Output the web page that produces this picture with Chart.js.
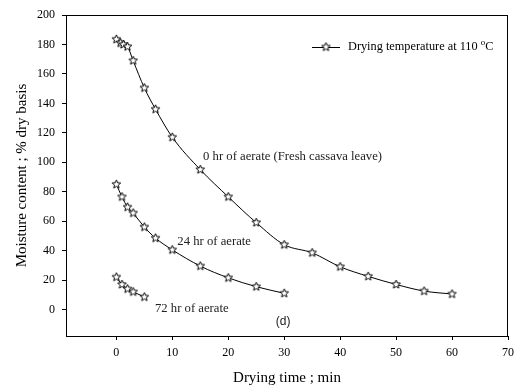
<!DOCTYPE html>
<html>
<head>
<meta charset="utf-8">
<script src="https://cdn.jsdelivr.net/npm/chart.js@4"></script>
<style>
  html, body { margin: 0; padding: 0; background: #fff; }
  #wrap { width: 520px; height: 390px; }
</style>
</head>
<body>
<div id="wrap"><canvas id="grafico" width="520" height="390"></canvas></div>
<script>
// drying time (min) and moisture content (% dry basis)
let time0 = [0, 0.75, 1.25, 2, 3, 5, 7, 10, 15, 20, 25, 30, 35, 40, 45, 50, 55, 60];
let mc0   = [183.5, 181, 180, 178.5, 169, 150.5, 136, 117, 95, 76.5, 59, 44, 38.5, 29, 22.5, 17, 12.5, 10.5];
let time24 = [0, 1, 2, 3, 5, 7, 10, 15, 20, 25, 30];
let mc24   = [85, 76.5, 69.5, 65.5, 56, 48.5, 40.5, 29.5, 21.5, 15.5, 11];
let time72 = [0, 1, 2, 3, 5];
let mc72   = [22, 17, 14, 12, 8.5];

let xTicks = [0, 10, 20, 30, 40, 50, 60, 70];
let yTicks = [0, 20, 40, 60, 80, 100, 120, 140, 160, 180, 200];

const serif = '"Liberation Serif", "Times New Roman", serif';

// open five-point star marker
function makeStar(size){
  let c = document.createElement('canvas');
  c.width = size; c.height = size;
  let g = c.getContext('2d');
  let cx = size/2, cy = size/2, R = size/2 - 1, r = R*0.45;
  g.beginPath();
  for(let i=0;i<10;i++){
    let a = -Math.PI/2 + i*Math.PI/5;
    let rr = i%2 ? r : R;
    let px = cx + rr*Math.cos(a), py = cy + rr*Math.sin(a);
    i ? g.lineTo(px,py) : g.moveTo(px,py);
  }
  g.closePath();
  g.fillStyle = '#fff';
  g.fill();
  g.strokeStyle = '#000';
  g.lineWidth = 1;
  g.stroke();
  return c;
}
let star = makeStar(11);

function pts(xs, ys){ return xs.map((x,i)=>({x:x, y:ys[i]})); }

function serie(xs, ys){
  return {
    data: pts(xs, ys),
    borderColor: '#000',
    borderWidth: 1,
    pointStyle: star,
    pointRadius: 5,
    cubicInterpolationMode: 'monotone',
    fill: false
  };
}

let extras = {
  id: 'extras',
  afterDraw(chart){
    let g = chart.ctx, a = chart.chartArea;
    let xs = chart.scales.x, ys = chart.scales.y;
    g.save();
    // frame
    g.strokeStyle = '#000';
    g.lineWidth = 1;
    g.strokeRect(a.left+0.5, a.top+0.5, a.right-a.left-1, a.bottom-a.top);

    g.fillStyle = '#222';
    g.font = '12.7px ' + serif;
    g.textBaseline = 'middle';
    g.textAlign = 'left';
    g.fillText('0 hr of aerate (Fresh cassava leave)', xs.getPixelForValue(15.5), ys.getPixelForValue(103.5));
    g.fillText('24 hr of aerate', xs.getPixelForValue(10.9), ys.getPixelForValue(46.4));
    g.fillText('72 hr of aerate', xs.getPixelForValue(6.9), ys.getPixelForValue(0.9));
    g.textAlign = 'center';
    g.font = '12px "Liberation Sans", Arial, sans-serif';
    g.fillText('(d)', xs.getPixelForValue(29.8), ys.getPixelForValue(-8));

    // legend
    let ly = 47;
    g.beginPath();
    g.moveTo(312, ly+0.5); g.lineTo(340, ly+0.5);
    g.stroke();
    g.drawImage(star, 326-5.5, ly-5.5);
    g.textAlign = 'left';
    g.fillStyle = '#000';
    g.font = '12.3px ' + serif;
    let t = 'Drying temperature at 110 ';
    g.fillText(t, 348, ly);
    let w = g.measureText(t).width;
    g.font = '9px ' + serif;
    g.fillText('o', 348 + w, ly - 4);
    let w2 = g.measureText('o').width;
    g.font = '12.3px ' + serif;
    g.fillText('C', 348 + w + w2, ly);
    g.restore();
  }
};

let ctx = document.getElementById('grafico');
let chart = new Chart(ctx, {
  type: 'line',
  data: { datasets: [serie(time0, mc0), serie(time24, mc24), serie(time72, mc72)] },
  options: {
    responsive: false,
    animation: false,
    layout: { padding: { left: 0, right: 8, top: 15, bottom: 0 } },
    plugins: { legend: { display: false }, tooltip: { enabled: false } },
    scales: {
      x: {
        type: 'linear',
        min: -9, max: 70,
        afterBuildTicks: s => { s.ticks = xTicks.map(v => ({value: v})); },
        afterFit: s => { s.height = 54; },
        grid: { drawOnChartArea: false, drawTicks: true, tickLength: 4, color: '#000' },
        border: { display: true, color: '#000' },
        ticks: { color: '#000', font: { family: serif, size: 12 }, padding: 6, maxRotation: 0 },
        title: { display: true, text: 'Drying time ; min', color: '#000', font: { family: serif, size: 15 }, padding: { top: 4, bottom: 3 } }
      },
      y: {
        min: -18, max: 200,
        afterBuildTicks: s => { s.ticks = yTicks.map(v => ({value: v})); },
        afterFit: s => { s.width = 66; },
        grid: { drawOnChartArea: false, drawTicks: true, tickLength: 4, color: '#000' },
        border: { display: true, color: '#000' },
        ticks: { color: '#000', font: { family: serif, size: 12 }, padding: 7 },
        title: { display: true, text: 'Moisture content ; % dry basis', color: '#000', font: { family: serif, size: 15 }, padding: { top: 13, bottom: 0 } }
      }
    }
  },
  plugins: [extras]
});
</script>
</body>
</html>
